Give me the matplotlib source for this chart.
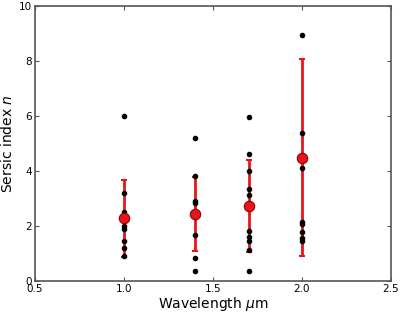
import matplotlib
matplotlib.use("Agg")
import matplotlib.pyplot as plt


WAVELENGTHS = [1.0, 1.4, 1.7, 2.0]

SERSIC_10 = [6.0, 3.2, 2.5, 2.0, 1.9, 1.45, 1.2, 0.9]
SERSIC_14 = [5.2, 3.8, 2.9, 2.83, 1.67, 0.85, 0.37]
SERSIC_17 = [5.97, 4.6, 4.0, 3.33, 3.13, 1.82, 1.61, 1.45, 1.13, 0.37]
SERSIC_20 = [8.95, 5.37, 4.1, 2.16, 2.07, 1.79, 1.55, 1.47]

MEANS = [2.28, 2.43, 2.73, 4.48]
ERRORS = [1.4, 1.35, 1.67, 3.58]

RED = "#e8141b"

fig = plt.figure(figsize=(4.0, 3.15), dpi=100)
ax = fig.add_axes([0.0875, 0.108, 0.89, 0.873])

# error bars under the points, mean markers on top
ax.errorbar(WAVELENGTHS, MEANS, yerr=ERRORS, fmt="none", ecolor=RED,
            elinewidth=2, capsize=2.5, capthick=1.5, zorder=2)

for x, vals in zip(WAVELENGTHS, [SERSIC_10, SERSIC_14, SERSIC_17, SERSIC_20]):
    ax.plot([x] * len(vals), vals, "k.", markersize=6, zorder=3)

ax.plot(WAVELENGTHS, MEANS, "o", color=RED, markersize=7.5,
        markeredgecolor="#8b0000", markeredgewidth=0.8, zorder=4)

ax.set_xlim(0.5, 2.5)
ax.set_ylim(0, 10)
ax.set_xticks([0.5, 1.0, 1.5, 2.0, 2.5])
ax.set_yticks([0, 2, 4, 6, 8, 10])
ax.tick_params(direction="in", top=True, right=True, labelsize=7.5, length=3,
               pad=2, color="#555555")
for s in ax.spines.values():
    s.set_color("#555555")
    s.set_linewidth(1.2)

ax.set_xlabel(r"Wavelength $\mu$m", fontsize=10, labelpad=1)
ax.set_ylabel(r"Sersic index $n$", fontsize=10, labelpad=3)

fig.savefig("out.png", dpi=100)
